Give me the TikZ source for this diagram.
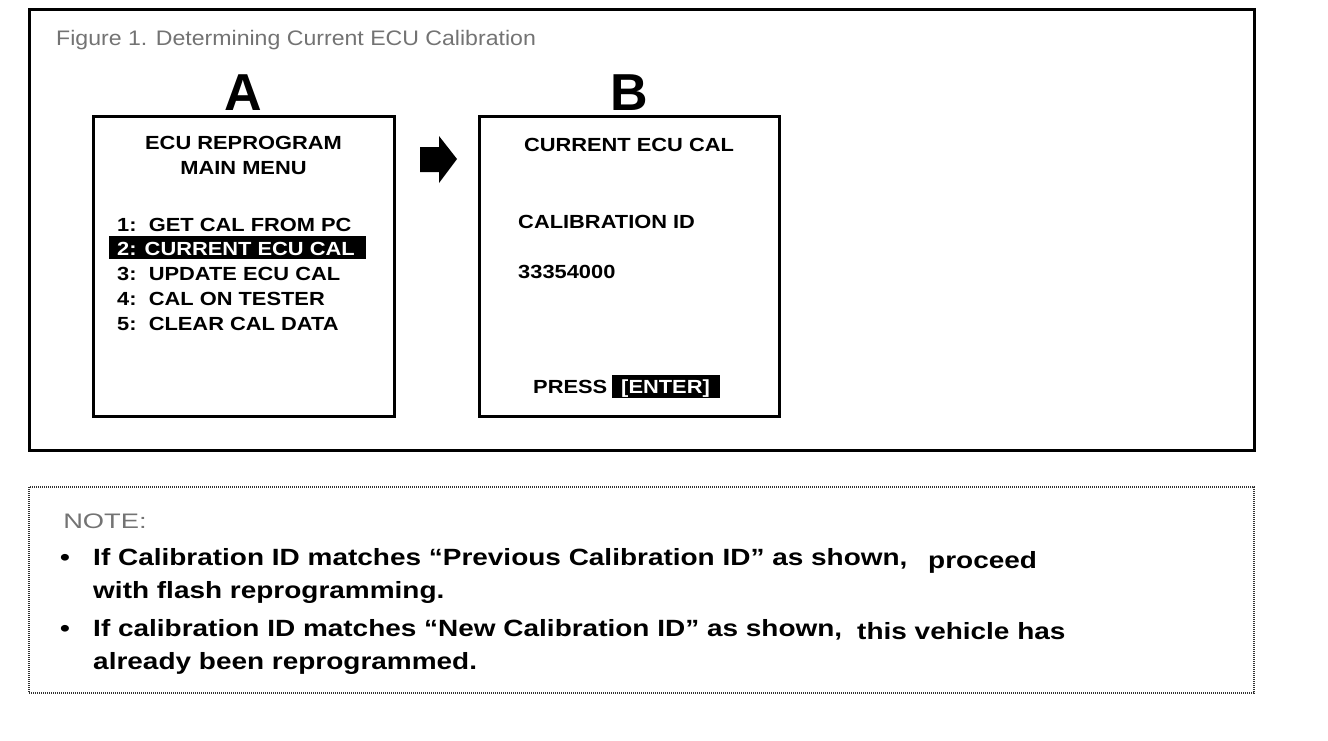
\documentclass[tikz,border=0pt]{standalone}
\usepackage{fontspec}
\setmainfont{Liberation Sans}
\begin{document}
\begin{tikzpicture}[x=1pt,y=-1pt,line join=miter,
  scr/.style={draw,line width=3pt},
  lcd/.style={font=\fontsize{19}{22}\selectfont\bfseries,xscale=1.15,inner sep=0pt},
  hdr/.style={font=\fontsize{21}{25}\selectfont,text=black!55,inner sep=0pt,anchor=base west},
  note/.style={font=\fontsize{23.5}{28}\selectfont\bfseries,xscale=1.19,inner sep=0pt,anchor=base west}]
\useasboundingbox (0,0) rectangle (1328,740);
% figure frame
\draw[line width=3pt] (29,9) rectangle (1254,450);
\node[hdr,xscale=1.1] (title) at (56,45) {Figure 1. Determining Current ECU Calibration};
\node[font=\fontsize{52}{60}\selectfont\bfseries,inner sep=0pt,anchor=base] (lblA) at (243.5,110) {A};
\node[font=\fontsize{52}{60}\selectfont\bfseries,inner sep=0pt,anchor=base] (lblB) at (629,110) {B};
% screen A
\draw[scr] (93,116) rectangle (394,416);
\node[lcd,anchor=base] (menuA) at (243.5,149) {ECU REPROGRAM};
\node[lcd,anchor=base] (menuB) at (243.5,174) {MAIN MENU};
\node[lcd,anchor=base west] (item1) at (117,231) {1:\ \ GET CAL FROM PC};
\fill (109,236) rectangle (366,259);
\node[lcd,anchor=base west,text=white] (item2) at (117,255) {2: CURRENT ECU CAL};
\node[lcd,anchor=base west] (item3) at (117,280) {3:\ \ UPDATE ECU CAL};
\node[lcd,anchor=base west] (item4) at (117,305) {4:\ \ CAL ON TESTER};
\node[lcd,anchor=base west] (item5) at (117,330) {5:\ \ CLEAR CAL DATA};
% block arrow
\fill (420,147) -- (439,147) -- (439,136) -- (457,159) -- (439,183) -- (439,172) -- (420,172) -- cycle;
% screen B
\draw[scr] (479,116) rectangle (779,416);
\node[lcd,anchor=base] (curcal) at (629,151) {CURRENT ECU CAL};
\node[lcd,anchor=base west] (calid) at (518,228) {CALIBRATION ID};
\node[lcd,anchor=base west] (calnum) at (518,278) {33354000};
\node[lcd,anchor=base west] (press) at (533,393) {PRESS};
\fill (612,375) rectangle (720,398);
\node[lcd,anchor=base west,text=white] (enter) at (621,393) {[ENTER]};
% note box
\draw[line width=2.5pt,black!80,dash pattern=on 1pt off 1pt] (29,487) rectangle (1254,693);
\node[hdr,xscale=1.3] (notehd) at (63,528) {NOTE:};
\node[note] (bul1) at (60,565) {\textbullet};
\node[note] (line1) at (93,565) {If Calibration ID matches “Previous Calibration ID” as shown,};
\node[note] (line1b) at (928,568) {proceed};
\node[note] (line2) at (93,598) {with flash reprogramming.};
\node[note] (bul2) at (60,636) {\textbullet};
\node[note] (line3) at (93,636) {If calibration ID matches “New Calibration ID” as shown,};
\node[note] (line3b) at (857,639) {this vehicle has};
\node[note] (line4) at (93,669) {already been reprogrammed.};
\end{tikzpicture}
\end{document}
